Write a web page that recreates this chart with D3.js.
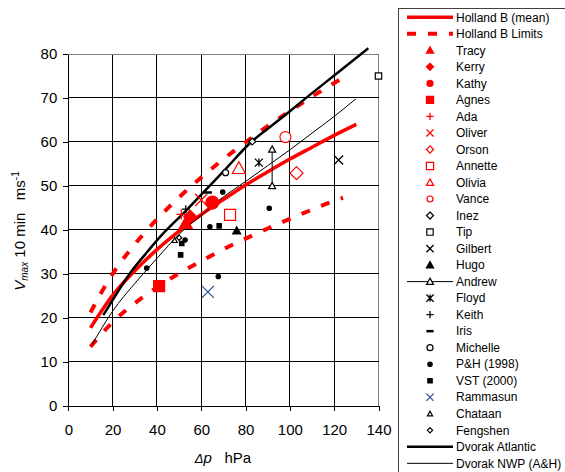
<!DOCTYPE html>
<html>
<head>
<meta charset="utf-8">
<script src="https://cdn.jsdelivr.net/npm/d3@7"></script>
<style>
  body { margin: 0; background: #fff; }
  svg { font-family: "Liberation Sans", Arial, sans-serif; }
</style>
</head>
<body>
<svg id="chart" width="565" height="472"></svg>
<script>
// curves, [dp, vmax]
const hollandMean = [[10,17.7],[20,25.1],[30,30.7],[40,35.5],[50,39.7],[60,43.5],[70,46.9],[80,50.2],[90,53.2],[100,56.1],[110,58.8],[120,61.5],[130,64.0]];
const hollandUpper = [[10,21.2],[20,30.0],[30,36.7],[40,42.4],[50,47.4],[60,51.9],[70,56.1],[80,59.9],[90,63.6],[100,67.0],[110,70.3],[120,73.4],[126,75.2]];
const hollandLower = [[10,13.4],[20,19.0],[30,23.3],[40,26.9],[50,30.1],[60,32.9],[70,35.6],[80,38.0],[90,40.3],[100,42.5],[110,44.6],[120,46.6],[124,47.3]];
const dvorakAtlantic = [[15.8,20.6],[20,24.0],[27.8,30.1],[35,34.6],[41.4,38.4],[53.4,44.5],[60,48.0],[70,53.3],[82.8,60.1],[90,63.0],[100,67.0],[110,71.1],[120,75.1],[135.4,81.3]];
const dvorakNWP = [[10.6,13.8],[20,21.5],[30,27.8],[40,33.5],[50,39.0],[60,43.3],[70,47.5],[80,51.0],[90,54.6],[100,58.2],[110,62.0],[120,65.8],[129.8,69.8]];

// storm observations
const tracy = [[53,41.5]];
const kerry = [[55,43]];
const kathy = [[65,46.2]];
const agnes = [[41,27.2]];
const ada = [[51,43.5]];
const oliver = [[60,46.8]];
const orson = [[103,52.9]];
const annette = [[73,43.4]];
const olivia = [[77,54]];
const vance = [[98,61.1]];
const inez = [[83,60.1]];
const tip = [[140,75]];
const gilbert = [[122,55.9]];
const hugo = [[76,39.8]];
const andrew = [[92,58.3],[92,50]];
const floyd = [[86,55.3]];
const keith = [[53,44.7]];
const iris = [[63,48.5]];
const michelle = [[71,53]];
const ph1998 = [[69.7,48.6],[90.7,44.9],[63.9,40.7],[67.7,29.4],[52.7,37.7],[35.4,31.3]];
const vst2000 = [[68.1,40.9],[51.2,36.9],[50.7,34.3]];
const rammasun = [[63,25.9]];
const chataan = [[48,37.6]];
const fengshen = [[50,38.2]];

const xTicks = [0,20,40,60,80,100,120,140];
const yTicks = [0,10,20,30,40,50,60,70,80];

const red = "#ff0000";
const blue = "#2f5597";

// legend order + how each series looks
const series = [
    { name: "Holland B (mean)", data: hollandMean, kind: "line", stroke: red, width: 3.5 },
    { name: "Holland B Limits", data: hollandUpper, extra: hollandLower, kind: "dash", stroke: red, width: 4 },
    { name: "Tracy", data: tracy, shape: "triangle", r: 6.5, fill: red, stroke: red },
    { name: "Kerry", data: kerry, shape: "diamond", r: 6.5, fill: red, stroke: red },
    { name: "Kathy", data: kathy, shape: "circle", r: 6.5, fill: red, stroke: red },
    { name: "Agnes", data: agnes, shape: "square", r: 5.5, fill: red, stroke: red },
    { name: "Ada", data: ada, shape: "plus", r: 5, fill: "none", stroke: red },
    { name: "Oliver", data: oliver, shape: "x", r: 6, fill: "none", stroke: red },
    { name: "Orson", data: orson, shape: "diamond", r: 6.5, fill: "#fff", stroke: red },
    { name: "Annette", data: annette, shape: "square", r: 5.5, fill: "#fff", stroke: red },
    { name: "Olivia", data: olivia, shape: "triangle", r: 6.5, fill: "#fff", stroke: red },
    { name: "Vance", data: vance, shape: "circle", r: 5.5, fill: "#fff", stroke: red },
    { name: "Inez", data: inez, shape: "diamond", r: 3.5, fill: "#fff", stroke: "#000" },
    { name: "Tip", data: tip, shape: "square", r: 3.2, fill: "#fff", stroke: "#000" },
    { name: "Gilbert", data: gilbert, shape: "x", r: 4.5, fill: "none", stroke: "#000" },
    { name: "Hugo", data: hugo, shape: "triangle", r: 4, fill: "#000", stroke: "#000" },
    { name: "Andrew", data: andrew, shape: "triangle", r: 3.5, fill: "#fff", stroke: "#000", joined: true },
    { name: "Floyd", data: floyd, shape: "asterisk", r: 4, fill: "none", stroke: "#000" },
    { name: "Keith", data: keith, shape: "plus", r: 4, fill: "none", stroke: "#000" },
    { name: "Iris", data: iris, shape: "dash", r: 4, fill: "none", stroke: "#000" },
    { name: "Michelle", data: michelle, shape: "circle", r: 3, fill: "#fff", stroke: "#000" },
    { name: "P&H (1998)", data: ph1998, shape: "circle", r: 2.2, fill: "#000", stroke: "#000" },
    { name: "VST (2000)", data: vst2000, shape: "square", r: 2.2, fill: "#000", stroke: "#000" },
    { name: "Rammasun", data: rammasun, shape: "x", r: 6, fill: "none", stroke: blue },
    { name: "Chataan", data: chataan, shape: "triangle", r: 2.6, fill: "#fff", stroke: "#000" },
    { name: "Fengshen", data: fengshen, shape: "diamond", r: 2.6, fill: "#fff", stroke: "#000" },
    { name: "Dvorak Atlantic", data: dvorakAtlantic, kind: "line", stroke: "#000", width: 2.5 },
    { name: "Dvorak NWP (A&H)", data: dvorakNWP, kind: "line", stroke: "#000", width: 1 }
];

function markerPath(shape, r) {
    switch (shape) {
        case "triangle": return `M0,${-r}L${r},${r*0.8}L${-r},${r*0.8}Z`;
        case "diamond": return `M0,${-r}L${r},0L0,${r}L${-r},0Z`;
        case "square": return `M${-r},${-r}H${r}V${r}H${-r}Z`;
        case "plus": return `M${-r},0H${r}M0,${-r}V${r}`;
        case "x": return `M${-r},${-r}L${r},${r}M${-r},${r}L${r},${-r}`;
        case "asterisk": return `M${-r},${-r}L${r},${r}M${-r},${r}L${r},${-r}M0,${-r}V${r}`;
        case "dash": return `M${-r},0H${r}`;
        default: return "";
    }
}

function drawMarker(g, s, cx, cy, r) {
    if (s.shape === "circle") {
        g.append("circle").attr("cx", cx).attr("cy", cy).attr("r", r)
            .attr("fill", s.fill).attr("stroke", s.stroke).attr("stroke-width", 1.2);
    } else {
        const open = ["plus","x","asterisk","dash"].includes(s.shape);
        g.append("path").attr("d", markerPath(s.shape, r))
            .attr("transform", `translate(${cx},${cy})`)
            .attr("fill", s.fill).attr("stroke", s.stroke)
            .attr("stroke-width", s.shape === "dash" ? 2.5 : (open ? 1.3 : 1.2));
    }
}

const svg = d3.select("#chart");
const x = d3.scaleLinear().domain([0, 140]).range([68.3, 378.5]);
const y = d3.scaleLinear().domain([0, 80]).range([405.7, 54]);

// grid
const grid = svg.append("g");
grid.selectAll(".gx").data(xTicks.slice(1)).enter().append("line")
    .attr("x1", d => x(d)).attr("x2", d => x(d)).attr("y1", y(0)).attr("y2", y(80))
    .attr("stroke", d => d === 140 ? "#808080" : "#000").attr("stroke-width", 1).attr("shape-rendering", "crispEdges");
grid.selectAll(".gy").data(yTicks.slice(1)).enter().append("line")
    .attr("x1", x(0)).attr("x2", x(140)).attr("y1", d => y(d)).attr("y2", d => y(d))
    .attr("stroke", d => d === 80 ? "#808080" : "#000").attr("stroke-width", 1).attr("shape-rendering", "crispEdges");

// axes
const xAxis = svg.append("g").attr("transform", `translate(0,${y(0)})`)
    .call(d3.axisBottom(x).tickValues(xTicks).tickSize(5).tickPadding(14).tickSizeOuter(0));
const yAxis = svg.append("g").attr("transform", `translate(${x(0)},0)`)
    .call(d3.axisLeft(y).tickValues(yTicks).tickSize(5).tickPadding(6).tickSizeOuter(0));
[xAxis, yAxis].forEach(a => {
    a.selectAll("path, line").attr("stroke", "#000").attr("shape-rendering", "crispEdges");
    a.selectAll("text").attr("font-size", 15).attr("fill", "#000").attr("font-family", "Liberation Sans, Arial, sans-serif");
});

// curves
const line = d3.line().x(d => x(d[0])).y(d => y(d[1])).curve(d3.curveMonotoneX);
const plot = svg.append("g");
series.forEach(s => {
    if (s.kind === "line") {
        plot.append("path").attr("d", line(s.data)).attr("fill", "none")
            .attr("stroke", s.stroke).attr("stroke-width", s.width);
    } else if (s.kind === "dash") {
        [s.data, s.extra].forEach(d => {
            plot.append("path").attr("d", line(d)).attr("fill", "none")
                .attr("stroke", s.stroke).attr("stroke-width", s.width)
                .attr("stroke-dasharray", "9,12");
        });
    }
});

// markers
series.filter(s => s.shape).forEach(s => {
    if (s.joined) {
        plot.append("path").attr("d", d3.line().x(d => x(d[0])).y(d => y(d[1]))(s.data))
            .attr("fill", "none").attr("stroke", s.stroke).attr("stroke-width", 1);
    }
    s.data.forEach(d => drawMarker(plot, s, x(d[0]), y(d[1]), s.r));
});

// axis titles
const yTitle = svg.append("text")
    .attr("transform", "translate(25,231) rotate(-90)")
    .attr("text-anchor", "middle").attr("font-size", 15).attr("fill", "#000");
yTitle.append("tspan").attr("font-style", "italic").text("V");
yTitle.append("tspan").attr("font-style", "italic").attr("font-size", 10).attr("dy", 3).text("max");
yTitle.append("tspan").attr("dy", -3).text("\u00a010 min\u00a0\u00a0\u00a0ms");
yTitle.append("tspan").attr("font-size", 10).attr("dy", -6).text("-1");

const xTitle = svg.append("text")
    .attr("x", 223).attr("y", 463)
    .attr("text-anchor", "middle").attr("font-size", 15).attr("fill", "#000");
xTitle.append("tspan").attr("font-style", "italic").attr("font-size", 13).text("Δ");
xTitle.append("tspan").attr("font-style", "italic").text("p");
xTitle.append("tspan").text("\u00a0\u00a0\u00a0hPa");

// legend
const legend = svg.append("g");
legend.append("rect").attr("x", 398.5).attr("y", 8.5).attr("width", 200).attr("height", 500)
    .attr("fill", "#fff").attr("stroke", "#404040").attr("stroke-width", 1);
series.forEach((s, i) => {
    const ly = 17.3 + i * 16.52;
    if (s.kind || s.joined) {
        legend.append("line").attr("x1", 407).attr("x2", 453).attr("y1", ly).attr("y2", ly)
            .attr("stroke", s.stroke)
            .attr("stroke-width", s.kind ? s.width : 1)
            .attr("stroke-dasharray", s.kind === "dash" ? "9,12" : null);
    }
    if (s.shape) {
        drawMarker(legend, s, 430, ly, Math.min(s.r, s.shape === "circle" ? 3 : 3.6));
    }
    legend.append("text").attr("x", 456).attr("y", ly).attr("dy", "0.35em")
        .attr("font-size", 12).attr("fill", "#000").text(s.name);
});
</script>
</body>
</html>
